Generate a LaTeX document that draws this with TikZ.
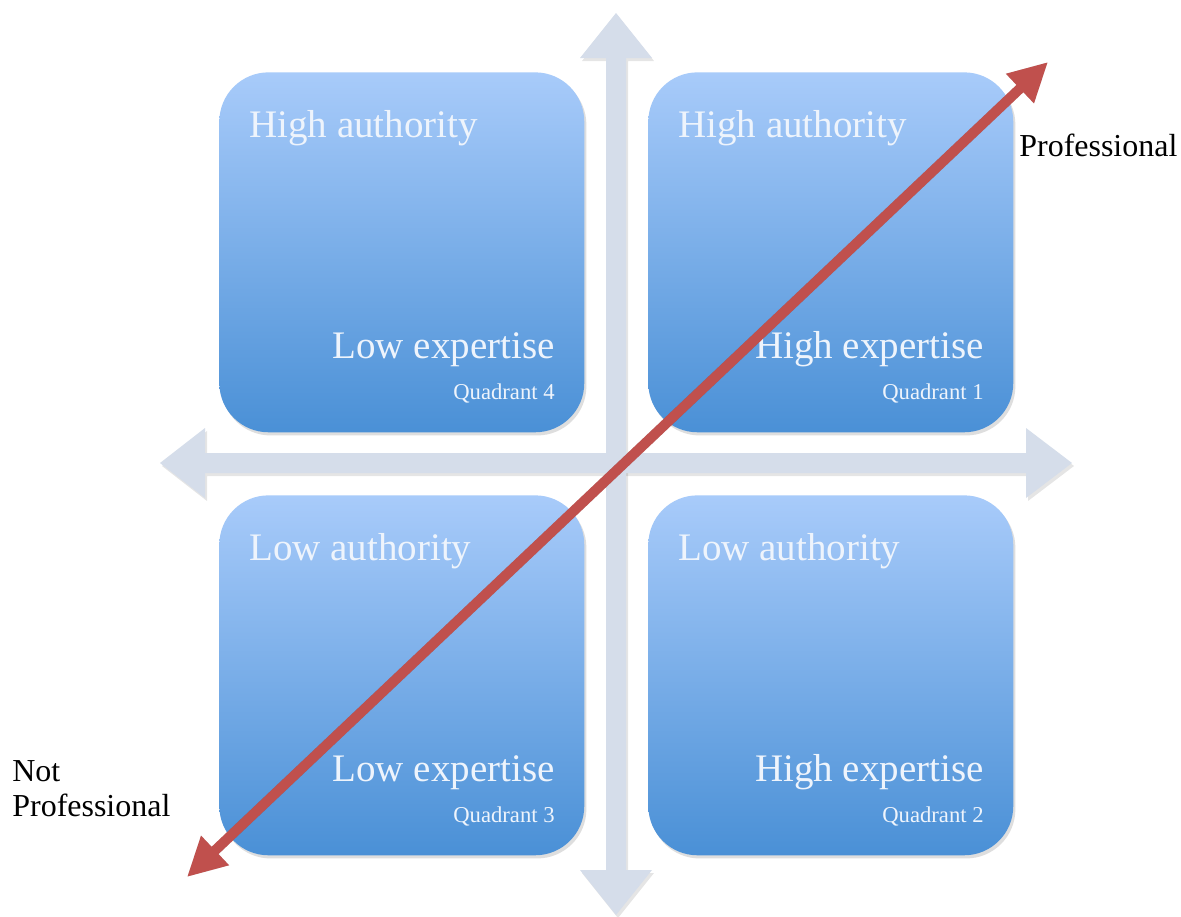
\documentclass[tikz,border=0pt]{standalone}
\usepackage{fontspec}
\setmainfont{Liberation Serif}
\usetikzlibrary{arrows.meta,shadows}
\definecolor{boxtop}{RGB}{168,203,250}
\definecolor{boxbot}{RGB}{74,144,214}
\definecolor{axiscol}{RGB}{213,221,234}
\definecolor{redarrow}{RGB}{192,80,77}
\definecolor{boxtext}{RGB}{238,244,252}
\begin{document}
\begin{tikzpicture}[x=0.02cm,y=-0.02cm,
  quad/.style={rounded corners=28pt, top color=boxtop, bottom color=boxbot, draw=none,
    minimum width=7.3cm, minimum height=7.2cm, anchor=north west, inner sep=0pt,
    drop shadow={shadow xshift=1.2pt, shadow yshift=-1.8pt, opacity=0.18, fill=black!70}},
  big/.style={font=\fontsize{22.2}{26}\selectfont, text=boxtext, inner sep=0pt},
  small/.style={font=\fontsize{12.9}{15}\selectfont, text=boxtext, inner sep=0pt},
  lab/.style={font=\fontsize{18.2}{21}\selectfont, inner sep=0pt, text=black}]
\fill[white] (0,0) rectangle (1181,917);
\useasboundingbox (0,0) rectangle (1181,917);
% axes shadows
\begin{scope}[shift={(2,3)}]
\fill[black, opacity=0.10] (606,58) -- (580,58) -- (616,13) -- (652,58) -- (626,58) -- (626,870) -- (652,870) -- (616,915) -- (580,870) -- (606,870) -- cycle;
\fill[black, opacity=0.10] (205,453) -- (205,428) -- (160,463) -- (205,498) -- (205,473) -- (1026,473) -- (1026,498) -- (1072,463) -- (1026,428) -- (1026,453) -- cycle;
\end{scope}
% axes
\fill[axiscol] (606,58) -- (580,58) -- (616,13) -- (652,58) -- (626,58) -- (626,870) -- (652,870) -- (616,915) -- (580,870) -- (606,870) -- cycle;
\fill[axiscol] (205,453) -- (205,428) -- (160,463) -- (205,498) -- (205,473) -- (1026,473) -- (1026,498) -- (1072,463) -- (1026,428) -- (1026,453) -- cycle;
% quadrants
\node[quad] (q4) at (219,72) {};
\node[quad] (q1) at (648,72) {};
\node[quad] (q3) at (219,495) {};
\node[quad] (q2) at (648,495) {};
% texts
\node[big, anchor=base west] (q4a) at (249,137) {High authority};
\node[big, anchor=base east] (q4e) at (555,358) {Low expertise};
\node[small, anchor=base east] (q4n) at (555,399) {Quadrant 4};
\node[big, anchor=base west] (q1a) at (678,137) {High authority};
\node[big, anchor=base east] (q1e) at (984,358) {High expertise};
\node[small, anchor=base east] (q1n) at (984,399) {Quadrant 1};
\node[big, anchor=base west] (q3a) at (249,560) {Low authority};
\node[big, anchor=base east] (q3e) at (555,781) {Low expertise};
\node[small, anchor=base east] (q3n) at (555,822) {Quadrant 3};
\node[big, anchor=base west] (q2a) at (678,560) {Low authority};
\node[big, anchor=base east] (q2e) at (984,781) {High expertise};
\node[small, anchor=base east] (q2n) at (984,822) {Quadrant 2};
% outside labels
\node[lab, anchor=base west] (pro) at (1019,156) {Professional};
\node[lab, anchor=base west] (not1) at (12,781) {Not};
\node[lab, anchor=base west] (not2) at (12,816) {Professional};
% red arrow
\coordinate (np) at (187,877);
\coordinate (pp) at (1048,62);
\begin{scope}[shift={(2,4)}]
\draw[black, opacity=0.18, line width=5.7pt, {Triangle[length=22pt,width=21.5pt]}-{Triangle[length=22pt,width=21.5pt]}] (np) -- (pp);
\end{scope}
\draw[redarrow, line width=5.7pt, {Triangle[length=22pt,width=21.5pt]}-{Triangle[length=22pt,width=21.5pt]}] (np) -- (pp);
\end{tikzpicture}
\end{document}
